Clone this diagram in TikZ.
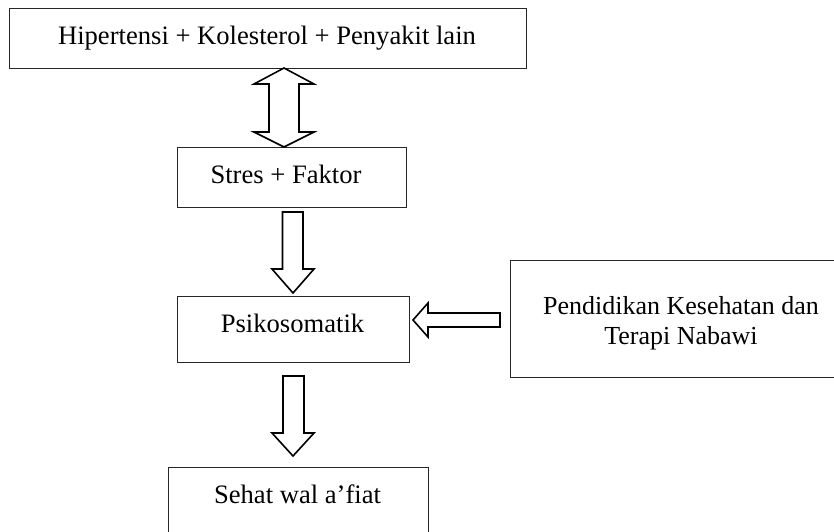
\documentclass[tikz,border=0pt]{standalone}
\usepackage{fontspec}
\setmainfont{Liberation Serif}
\begin{document}
\begin{tikzpicture}[x=1pt,y=-1pt,
  box/.style={draw=black!85,line width=1pt,inner sep=0pt,minimum width=#1},
  txt/.style={inner sep=0pt,anchor=base,font=\fontsize{26.6}{30}\selectfont},
  blockarrow/.style={draw=black,line width=1.6pt,line join=miter,fill=white}]
\useasboundingbox (0,0) rectangle (834,531);
% boxes
\node[box=517pt,minimum height=60pt] (b1) at (267.5,38) {};
\node[box=229pt,minimum height=60pt] (b2) at (291.5,177) {};
\node[box=232pt,minimum height=66pt] (b3) at (293,329) {};
\node[box=260pt,minimum height=70pt] (b4) at (298,502) {};
\node[box=326pt,minimum height=117pt] (b5) at (673,318.5) {};
% texts
\node[txt] (t1) at (267,44) {Hipertensi + Kolesterol + Penyakit lain};
\node[txt] (t2) at (286,183) {Stres + Faktor};
\node[txt] (t3) at (292.5,332) {Psikosomatik};
\node[txt] (t4) at (297.5,503) {Sehat wal a’fiat};
\node[txt,align=center,anchor=north,font=\fontsize{26}{30}\selectfont] (t5) at (681,296) {Pendidikan Kesehatan dan\\Terapi Nabawi};
% double arrow b1 <-> b2
\draw[blockarrow] (284,68) -- (314,84) -- (299,84) -- (299,132) -- (314,132) -- (284,147)
  -- (254,132) -- (269,132) -- (269,84) -- (254,84) -- cycle;
% down arrow b2 -> b3
\draw[blockarrow] (282.5,212) -- (303,212) -- (303,269) -- (314,269) -- (293,293)
  -- (272,269) -- (282.5,269) -- cycle;
% down arrow b3 -> b4
\draw[blockarrow] (283,376) -- (304,376) -- (304,433) -- (314,433) -- (293,456)
  -- (272,433) -- (283,433) -- cycle;
% left arrow b5 -> b3
\draw[blockarrow] (500,313) -- (500,327) -- (428,327) -- (428,337) -- (413,320)
  -- (428,303) -- (428,313) -- cycle;
\end{tikzpicture}
\end{document}
